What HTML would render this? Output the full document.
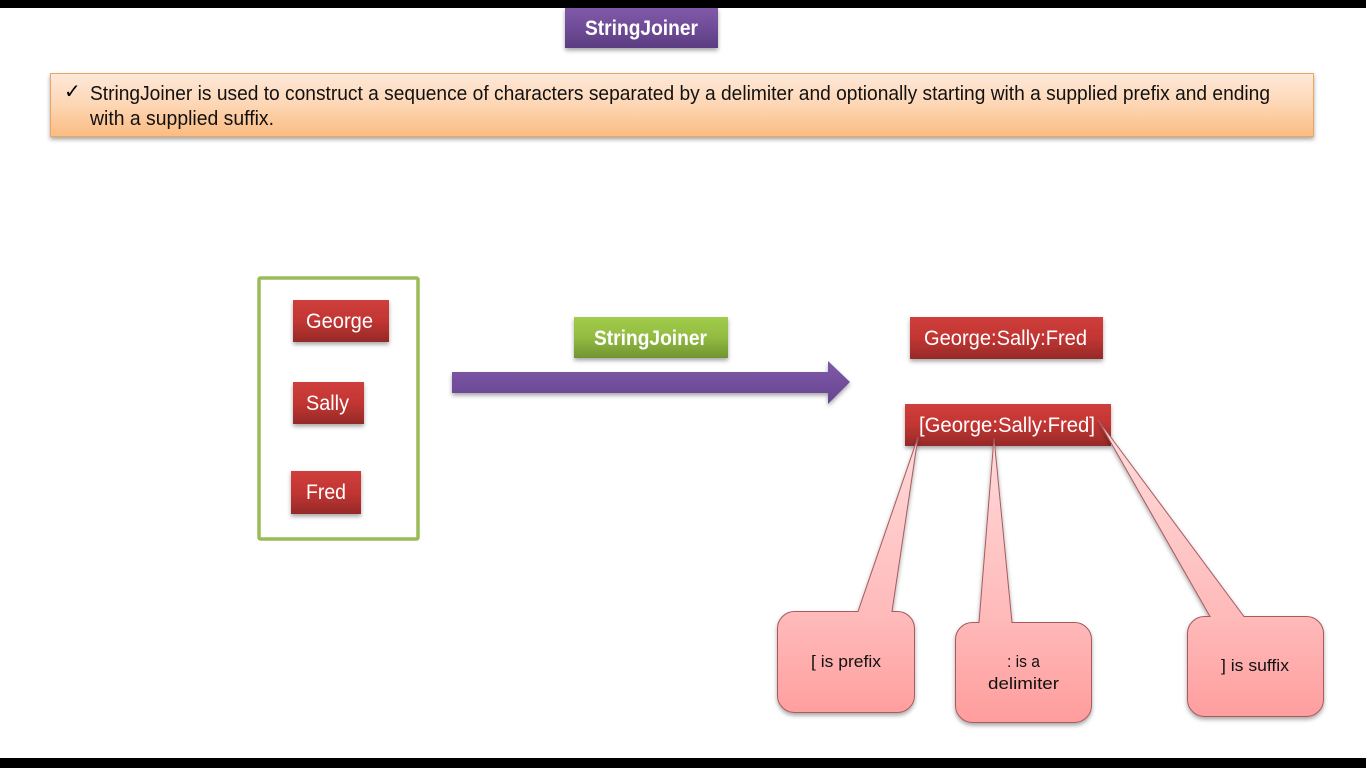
<!DOCTYPE html>
<html><head><meta charset="utf-8"><style>
html,body{margin:0;padding:0;background:#fff;width:1366px;height:768px;overflow:hidden}
svg{display:block}
text{font-family:"Liberation Sans",sans-serif}
</style></head><body>
<svg width="1366" height="768" viewBox="0 0 1366 768" xmlns="http://www.w3.org/2000/svg">
<defs>
<linearGradient id="p" x1="0" y1="0" x2="0" y2="1"><stop offset="0" stop-color="#8059a8"/><stop offset=".5" stop-color="#6f4c98"/><stop offset="1" stop-color="#5b3d80"/></linearGradient>
<linearGradient id="r" x1="0" y1="0" x2="0" y2="1"><stop offset="0" stop-color="#cf3f3c"/><stop offset=".5" stop-color="#c23532"/><stop offset="1" stop-color="#952a28"/></linearGradient>
<linearGradient id="g" x1="0" y1="0" x2="0" y2="1"><stop offset="0" stop-color="#a2cc4a"/><stop offset=".5" stop-color="#92bb41"/><stop offset="1" stop-color="#729333"/></linearGradient>
<linearGradient id="o" x1="0" y1="0" x2="0" y2="1"><stop offset="0" stop-color="#fee8d8"/><stop offset=".5" stop-color="#fdd6b4"/><stop offset="1" stop-color="#fcbb80"/></linearGradient>
<linearGradient id="k" gradientUnits="userSpaceOnUse" x1="0" y1="425" x2="0" y2="720"><stop offset="0" stop-color="#ffdcdc"/><stop offset=".66" stop-color="#ffb9b9"/><stop offset="1" stop-color="#ff9d9d"/></linearGradient>
<linearGradient id="a" x1="0" y1="0" x2="0" y2="1"><stop offset="0" stop-color="#7f58a8"/><stop offset="1" stop-color="#664690"/></linearGradient>
<filter id="s" x="-10%" y="-20%" width="120%" height="150%"><feDropShadow dx="0" dy="2.5" stdDeviation="2" flood-color="#000" flood-opacity=".35"/></filter>
</defs>
<rect width="1366" height="8" fill="#000"/>
<rect y="758" width="1366" height="10" fill="#000"/>

<rect x="565" y="8" width="153" height="40" fill="url(#p)" filter="url(#s)"/>
<text x="585" y="35" font-size="21" font-weight="bold" fill="#fff" textLength="113" lengthAdjust="spacingAndGlyphs">StringJoiner</text>

<rect x="50.500" y="73.500" width="1263" height="63" fill="url(#o)" stroke="#e8a766" filter="url(#s)"/>
<text x="64" y="98" font-size="20" fill="#000" font-family="DejaVu Sans">✓</text>
<text x="90" y="100" font-size="20" fill="#111" textLength="1180" lengthAdjust="spacingAndGlyphs">StringJoiner is used to construct a sequence of characters separated by a delimiter and optionally starting with a supplied prefix and ending</text>
<text x="90" y="125" font-size="20" fill="#111" textLength="184" lengthAdjust="spacingAndGlyphs">with a supplied suffix.</text>

<rect x="259" y="278" width="159" height="261" rx="1.500" fill="#fff" stroke="#9bbb59" stroke-width="3.500"/>

<rect x="293" y="300" width="96" height="42" fill="url(#r)" filter="url(#s)"/>
<text x="306" y="328" font-size="21" fill="#fff" textLength="67" lengthAdjust="spacingAndGlyphs">George</text>
<rect x="293" y="382" width="71" height="42" fill="url(#r)" filter="url(#s)"/>
<text x="306" y="410" font-size="21" fill="#fff" textLength="43" lengthAdjust="spacingAndGlyphs">Sally</text>
<rect x="291" y="471" width="70" height="43" fill="url(#r)" filter="url(#s)"/>
<text x="306" y="499" font-size="21" fill="#fff" textLength="40" lengthAdjust="spacingAndGlyphs">Fred</text>

<rect x="574" y="317" width="154" height="41" fill="url(#g)" filter="url(#s)"/>
<text x="594" y="345" font-size="21" font-weight="bold" fill="#fff" textLength="113" lengthAdjust="spacingAndGlyphs">StringJoiner</text>

<path d="M452 372H828V361L850 382L828 404V393H452Z" fill="url(#a)" filter="url(#s)"/>

<rect x="910" y="317" width="193" height="42" fill="url(#r)" filter="url(#s)"/>
<text x="924" y="345" font-size="21" fill="#fff" textLength="163" lengthAdjust="spacingAndGlyphs">George:Sally:Fred</text>
<rect x="905" y="404" width="206" height="42" fill="url(#r)" filter="url(#s)"/>
<text x="919" y="432" font-size="21" fill="#fff" textLength="176" lengthAdjust="spacingAndGlyphs">[George:Sally:Fred]</text>

<path d="M795 611.500H858L918 437L892 611.500H897A17 17 0 0 1 914.500 629V695A17 17 0 0 1 897 712.500H795A17 17 0 0 1 777.500 695V629A17 17 0 0 1 795 611.500Z" fill="url(#k)" stroke="#a85a5e" filter="url(#s)"/>
<text x="811" y="667" font-size="17" fill="#111" textLength="70" lengthAdjust="spacingAndGlyphs">[ is prefix</text>

<path d="M973 622.500H979L994 438L1012 622.500H1074A17 17 0 0 1 1091.500 640V705A17 17 0 0 1 1074 722.500H973A17 17 0 0 1 955.500 705V640A17 17 0 0 1 973 622.500Z" fill="url(#k)" stroke="#a85a5e" filter="url(#s)"/>
<text x="1007" y="667" font-size="17" fill="#111" textLength="33" lengthAdjust="spacingAndGlyphs">: is a</text>
<text x="988" y="689" font-size="17" fill="#111" textLength="71" lengthAdjust="spacingAndGlyphs">delimiter</text>

<path d="M1205 616.500H1210L1098 420L1244 616.500H1306A17 17 0 0 1 1323.500 634V699A17 17 0 0 1 1306 716.500H1205A17 17 0 0 1 1187.500 699V634A17 17 0 0 1 1205 616.500Z" fill="url(#k)" stroke="#a85a5e" filter="url(#s)"/>
<text x="1221" y="671" font-size="17" fill="#111" textLength="68" lengthAdjust="spacingAndGlyphs">] is suffix</text>
</svg>
</body></html>
